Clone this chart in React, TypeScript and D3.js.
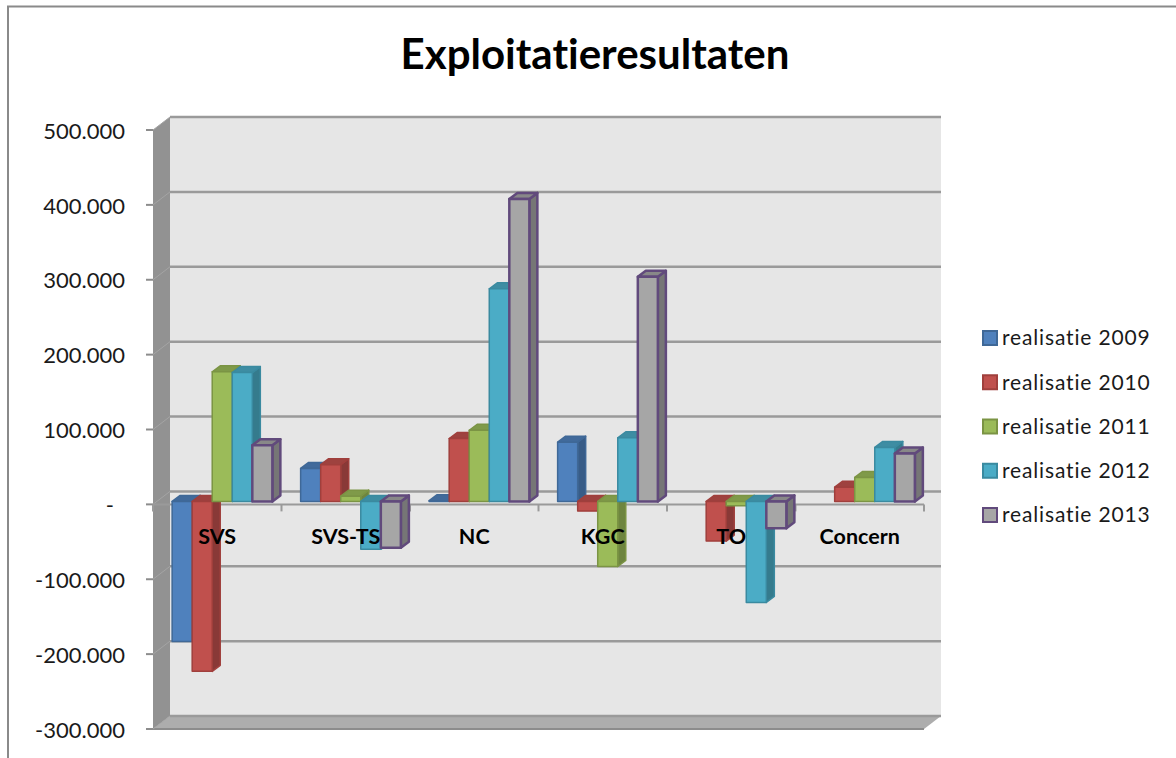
import React from 'react';
import * as d3 from 'd3';

const categories = ['SVS', 'SVS-TS', 'NC', 'KGC', 'TO', 'Concern'];
const seriesNames = ['realisatie 2009', 'realisatie 2010', 'realisatie 2011', 'realisatie 2012', 'realisatie 2013'];

const realisatie2009 = [-187000, 44000, 1000, 79000, 0, 0];
const realisatie2010 = [-227000, 49000, 84000, -13000, -53000, 19000];
const realisatie2011 = [173000, 7000, 95000, -87000, -6000, 32000];
const realisatie2012 = [172000, -64000, 284000, 85000, -135000, 72000];
const realisatie2013 = [75000, -62000, 404000, 300000, -36000, 64000];
const seriesValues = [realisatie2009, realisatie2010, realisatie2011, realisatie2012, realisatie2013];

const yTicks = [500000, 400000, 300000, 200000, 100000, 0, -100000, -200000, -300000];

const fills = ['#4f81bd', '#c0504d', '#9bbb59', '#4bacc6', '#a6a6a6'];
const strokes = ['#3f6897', '#a03f3c', '#7b9444', '#3a8aa0', '#614a7c'];
const strokeWidths = [1.5, 1.5, 1.5, 1.5, 2.5];

const left = 153;
const right = 924;
const top = 130;
const bottom = 729;
const depthX = 17;
const depthY = -13;
const barDepthX = 8;
const barDepthY = -6;
const barShiftX = 5;
const barShiftY = -3;

const fontName = 'Lato, Carlito, sans-serif';
const noLigatures = { fontVariantLigatures: 'none' } as React.CSSProperties;

const nl = d3.formatLocale({ decimal: ',', thousands: '.', grouping: [3], currency: ['', ''], minus: '-' });
const fmt = nl.format(',d');

const y = d3.scaleLinear().domain([-300000, 500000]).range([bottom, top]);
const x = d3.scaleBand<string>().domain(categories).range([left, right]).paddingInner(0.22).paddingOuter(0.11);
const xInner = d3.scaleBand<string>().domain(seriesNames).range([0, x.bandwidth()]);
const legendY = d3.scalePoint<string>().domain(seriesNames).range([338, 515]);

const poly = (pts: number[][]) => pts.map((p) => p.join(',')).join(' ');

export default function App() {
  const zero = y(0);
  const bw = xInner.bandwidth();

  return (
    <svg width={1176} height={758} style={{ position: 'absolute', left: 0, top: 0, background: '#fff' }}>
      {/* frame */}
      <path d="M8,758V6.5H1176" fill="none" stroke="#8a8a8a" strokeWidth={2} />

      <text
        x={595}
        y={69}
        textAnchor="middle"
        fontFamily={fontName}
        fontWeight={700}
        fontSize={42}
        fill="#000"
        style={noLigatures}
      >
        Exploitatieresultaten
      </text>

      {/* back wall, side wall, floor */}
      <rect x={left + depthX} y={top + depthY} width={right - left} height={bottom - top} fill="#e6e6e6" />
      <polygon
        points={poly([[left, top], [left + depthX, top + depthY], [left + depthX, bottom + depthY], [left, bottom]])}
        fill="#929292"
      />
      <polygon
        points={poly([[left, bottom], [left + depthX, bottom + depthY], [right + depthX, bottom + depthY], [right, bottom]])}
        fill="#adadad"
      />
      <line x1={left} x2={right} y1={bottom} y2={bottom} stroke="#8c8c8c" strokeWidth={2} />

      {yTicks.map((t) => (
        <g key={t}>
          <line x1={left + depthX} x2={right + depthX} y1={y(t) + depthY} y2={y(t) + depthY} stroke="#9a9a9a" strokeWidth={2.5} />
          <line x1={left} x2={left + depthX} y1={y(t)} y2={y(t) + depthY} stroke="#a4a4a4" strokeWidth={1} />
          <line x1={left - 7} x2={left} y1={y(t)} y2={y(t)} stroke="#8c8c8c" strokeWidth={2} />
          <text
            x={t === 0 ? 114 : 125}
            y={y(t) + 1}
            dy="0.35em"
            textAnchor="end"
            fontFamily={fontName}
            fontSize={22}
            fill="#1a1a1a"
          >
            {t === 0 ? '-' : fmt(t)}
          </text>
        </g>
      ))}

      {/* category axis at zero */}
      <line x1={left} x2={right} y1={zero} y2={zero} stroke="#9a9a9a" strokeWidth={2} />
      {d3.range(categories.length + 1).map((i) => {
        const px = left + x.step() * i;
        return <line key={i} x1={px} x2={px} y1={zero} y2={zero + 7} stroke="#9a9a9a" strokeWidth={2} />;
      })}

      {/* bars */}
      {categories.map((c, ci) => (
        <g key={c}>
          {seriesNames.map((s, si) => {
            const v = seriesValues[si][ci];
            if (v === 0) return null;
            const x0 = (x(c) as number) + (xInner(s) as number) + barShiftX;
            const x1 = x0 + bw;
            const yBase = zero + barShiftY;
            const yVal = y(v) + barShiftY;
            const yTop = Math.min(yBase, yVal);
            const yBot = Math.max(yBase, yVal);
            const darkSide = d3.color(fills[si])!.darker(0.95).formatHex();
            const darkTop = d3.color(fills[si])!.darker(0.55).formatHex();
            return (
              <g key={s} stroke={strokes[si]} strokeWidth={strokeWidths[si]} strokeLinejoin="round">
                <polygon
                  points={poly([[x1, yTop], [x1 + barDepthX, yTop + barDepthY], [x1 + barDepthX, yBot + barDepthY], [x1, yBot]])}
                  fill={darkSide}
                />
                <polygon
                  points={poly([[x0, yTop], [x0 + barDepthX, yTop + barDepthY], [x1 + barDepthX, yTop + barDepthY], [x1, yTop]])}
                  fill={darkTop}
                />
                <rect x={x0} y={yTop} width={bw} height={yBot - yTop} fill={fills[si]} />
              </g>
            );
          })}
        </g>
      ))}

      {/* category labels sit over the bars */}
      {categories.map((c) => (
        <text
          key={c}
          x={(x(c) as number) + x.bandwidth() / 2}
          y={536}
          dy="0.35em"
          textAnchor="middle"
          fontFamily={fontName}
          fontWeight={700}
          fontSize={21.5}
          fill="#000"
          style={noLigatures}
        >
          {c}
        </text>
      ))}

      {/* legend */}
      {seriesNames.map((s, si) => (
        <g key={s} transform={`translate(0,${legendY(s)})`}>
          <rect x={983} y={-7} width={14} height={14} fill={fills[si]} stroke={strokes[si]} strokeWidth={2} />
          <text x={1002} y={0} dy="0.35em" fontFamily={fontName} fontSize={21} letterSpacing={0.85} fill="#1a1a1a" style={noLigatures}>
            {s}
          </text>
        </g>
      ))}
    </svg>
  );
}
